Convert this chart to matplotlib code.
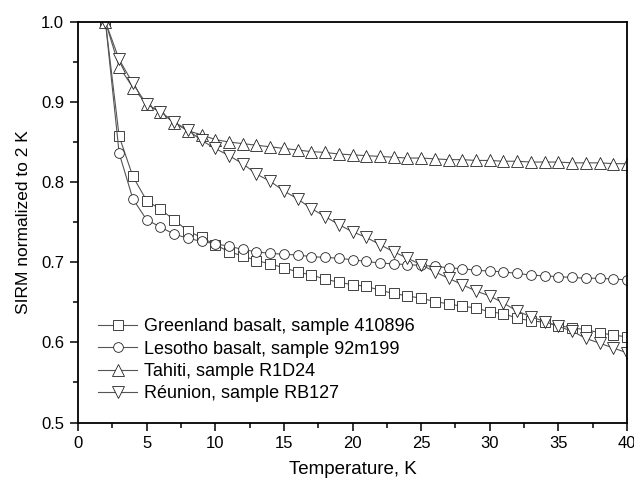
import matplotlib
matplotlib.use('Agg')
import matplotlib.pyplot as plt
import numpy as np

# temperature, K
temp = list(range(2, 41))

# SIRM normalized to 2 K
greenland = [1.000, 0.857, 0.807, 0.777, 0.766, 0.753, 0.739, 0.731, 0.722, 0.713,
             0.708, 0.702, 0.698, 0.693, 0.688, 0.684, 0.679, 0.675, 0.672, 0.670,
             0.665, 0.661, 0.658, 0.655, 0.651, 0.648, 0.645, 0.643, 0.638, 0.636,
             0.630, 0.627, 0.625, 0.621, 0.618, 0.616, 0.612, 0.609, 0.607]
lesotho = [1.000, 0.836, 0.779, 0.753, 0.744, 0.735, 0.730, 0.726, 0.723, 0.720,
           0.716, 0.713, 0.711, 0.710, 0.709, 0.707, 0.706, 0.705, 0.703, 0.701,
           0.699, 0.698, 0.697, 0.696, 0.695, 0.693, 0.692, 0.690, 0.689, 0.688,
           0.686, 0.684, 0.683, 0.682, 0.681, 0.680, 0.680, 0.679, 0.678]
tahiti = [1.000, 0.944, 0.918, 0.897, 0.887, 0.874, 0.864, 0.859, 0.853, 0.850,
          0.848, 0.846, 0.844, 0.842, 0.840, 0.838, 0.837, 0.835, 0.834, 0.833,
          0.832, 0.831, 0.830, 0.830, 0.829, 0.828, 0.828, 0.827, 0.827, 0.826,
          0.826, 0.825, 0.825, 0.825, 0.824, 0.824, 0.824, 0.823, 0.823]
reunion = [1.000, 0.953, 0.923, 0.897, 0.888, 0.875, 0.865, 0.852, 0.842, 0.833,
           0.823, 0.810, 0.801, 0.789, 0.779, 0.767, 0.757, 0.747, 0.738, 0.731,
           0.722, 0.713, 0.705, 0.697, 0.688, 0.680, 0.672, 0.664, 0.658, 0.649,
           0.639, 0.632, 0.626, 0.620, 0.614, 0.605, 0.599, 0.593, 0.587]

labels = ['Greenland basalt, sample 410896',
          'Lesotho basalt, sample 92m199',
          'Tahiti, sample R1D24',
          'Réunion, sample RB127']

plt.rcParams['font.family'] = ['Liberation Sans', 'DejaVu Sans']

fig = plt.figure(figsize=(6.34, 4.84), dpi=100)
ax = fig.add_axes([0.123, 0.127, 0.866, 0.828])

series = [greenland, lesotho, tahiti, reunion]
markers = ['s', 'o', '^', 'v']
msizes = [6.5, 7.0, 8.0, 8.0]

for y, m, ms, lab in zip(series, markers, msizes, labels):
    ax.plot(temp, y, color='#555555', lw=0.8, marker=m, ms=ms,
            mfc='white', mec='#222222', mew=0.6, label=lab)

ax.set_xlim(0, 40)
ax.set_ylim(0.5, 1.0)
ax.set_xticks(np.arange(0, 41, 5))
ax.set_xticks(np.arange(0, 41, 2.5), minor=True)
ax.set_yticks(np.arange(0.5, 1.01, 0.1))
ax.set_yticks(np.arange(0.5, 1.01, 0.05), minor=True)
ax.set_yticklabels(['0.5', '0.6', '0.7', '0.8', '0.9', '1.0'])

ax.tick_params(direction='out', top=False, right=False, labelsize=12,
               width=1.1, length=6, pad=4)
ax.tick_params(which='minor', direction='out', width=1.1, length=3.5)
for s in ax.spines.values():
    s.set_linewidth(1.3)

ax.set_xlabel('Temperature, K', fontsize=13.5, labelpad=7)
ax.set_ylabel('SIRM normalized to 2 K', fontsize=12.5, labelpad=7)

ax.legend(loc='lower left', bbox_to_anchor=(0.036, 0.05), frameon=False,
          fontsize=13, handlelength=2.2, handletextpad=0.35, labelspacing=0.3,
          borderpad=0, borderaxespad=0)

fig.savefig('out.png', dpi=100)
